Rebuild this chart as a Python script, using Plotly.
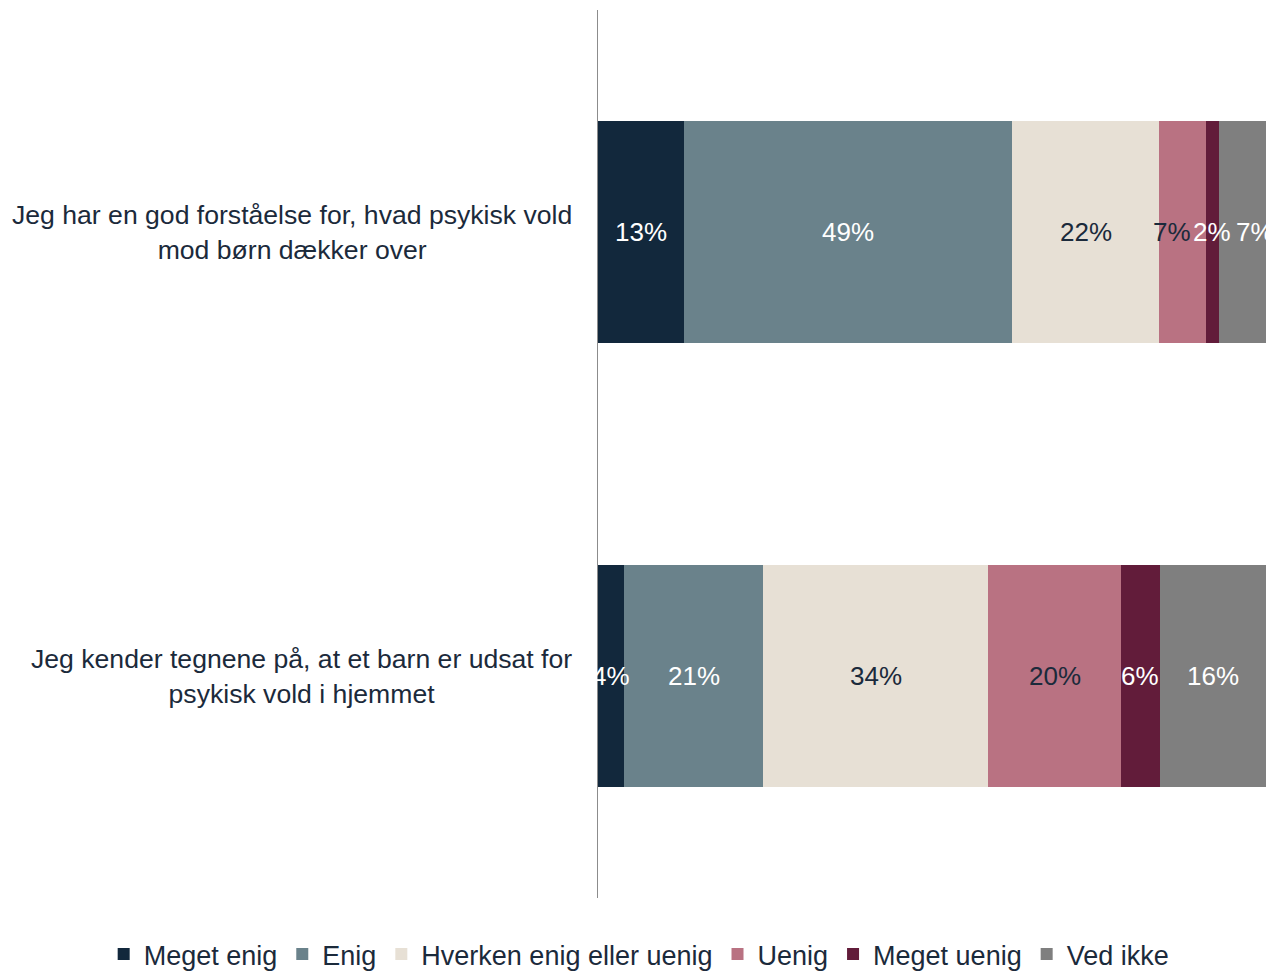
import plotly.graph_objects as go

# ── Data ─────────────────────────────────────────────────────
udsagn = [
    "Jeg har en god forståelse for, hvad psykisk vold<br>mod børn dækker over",
    "Jeg kender tegnene på, at et barn er udsat for<br>psykisk vold i hjemmet",
]
svar = ["Meget enig", "Enig", "Hverken enig eller uenig", "Uenig", "Meget uenig", "Ved ikke"]

meget_enig = [12.9, 3.9]
enig = [49.1, 20.8]
hverken = [22.0, 33.7]
uenig = [7.0, 19.9]
meget_uenig = [1.9, 5.8]
ved_ikke = [7.1, 15.9]

FARVER = ["#12283C", "#6A828B", "#E7E0D5", "#B97282", "#621C3A", "#7F7F7F"]
TEKST_FARVER = ["#FFFFFF", "#FFFFFF", "#1B2A3B", "#1B2A3B", "#FFFFFF", "#FFFFFF"]
TEKST = "#1B2A3B"
FONT = "Liberation Sans, Arial, sans-serif"
# små pixel-forskydninger af labels i smalle segmenter (række, serie) -> px
LABEL_SHIFT = {(0, 3): -11, (0, 5): 13}

serier = [meget_enig, enig, hverken, uenig, meget_uenig, ved_ikke]

fig = go.Figure()
for navn, vals, farve in zip(svar, serier, FARVER):
    fig.add_trace(go.Bar(
        y=udsagn, x=vals, orientation="h", name=navn,
        marker=dict(color=farve, line_width=0),
        width=0.5, hoverinfo="x+name",
    ))

# procent-labels midt i hvert segment
for r, u in enumerate(udsagn):
    start = 0.0
    for s, (vals, tfarve) in enumerate(zip(serier, TEKST_FARVER)):
        v = vals[r]
        fig.add_annotation(
            x=start + v / 2, y=u, xref="x", yref="y",
            text=f"{round(v)}%", showarrow=False,
            xshift=LABEL_SHIFT.get((r, s), 0),
            font=dict(size=26, color=tfarve, family=FONT),
        )
        start += v

# kategori-labels som centrerede annotationer
for u in udsagn:
    fig.add_annotation(
        x=-0.036, xref="paper", y=u, yref="y",
        text=u, showarrow=False, xanchor="right", align="center",
        font=dict(size=26.6, color=TEKST, family=FONT),
    )

fig.update_layout(
    barmode="stack",
    width=1274, height=976,
    margin=dict(l=590, r=16, t=2, b=86),
    paper_bgcolor="white", plot_bgcolor="white",
    font=dict(family=FONT, color=TEKST, size=26),
    showlegend=True,
    legend=dict(orientation="h", xref="paper", x=-0.74, xanchor="left",
                yref="paper", y=-0.036, yanchor="top",
                font=dict(size=27, color=TEKST), traceorder="normal",
                itemwidth=30),
    xaxis=dict(range=[0, 100], showticklabels=False, showgrid=False,
               zeroline=False, showline=False, ticks=""),
    yaxis=dict(autorange="reversed", showticklabels=False, showgrid=False,
               showline=True, linecolor="#8C8C8C", linewidth=1, ticks=""),
)

fig.write_html("out.html")
